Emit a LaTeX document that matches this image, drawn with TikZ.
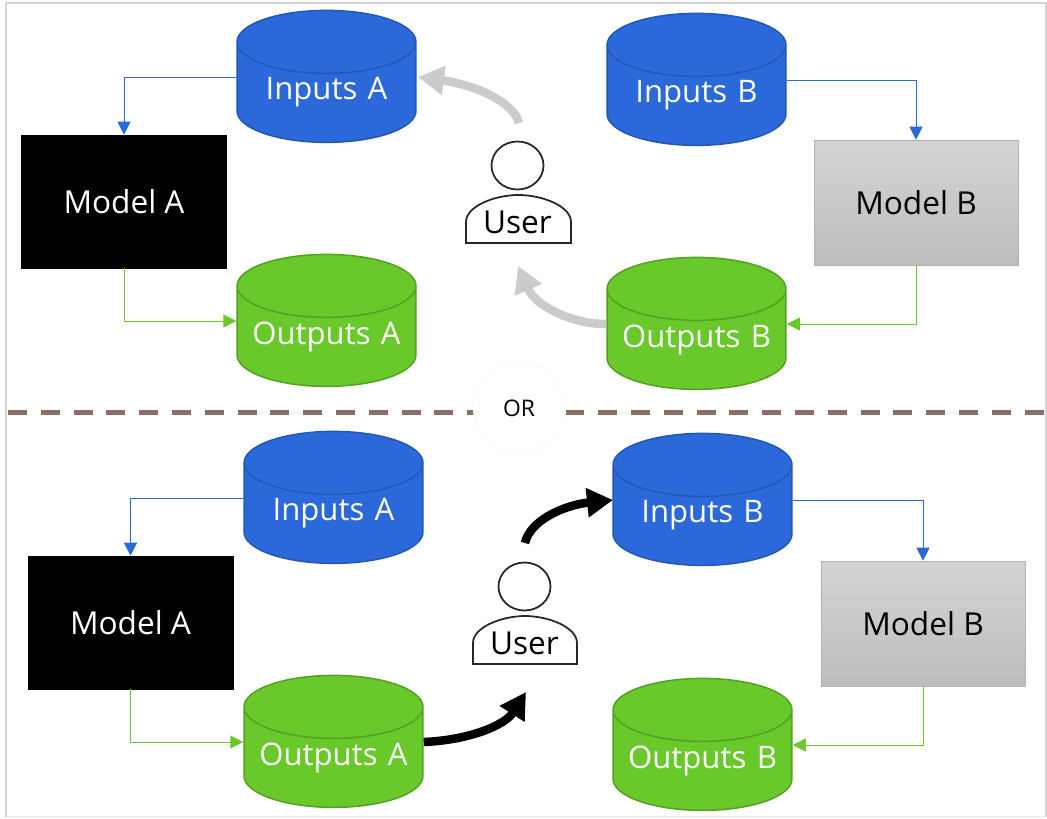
\documentclass[tikz,border=0pt]{standalone}
\usepackage{fontspec}
\setmainfont{Open Sans}
\usetikzlibrary{arrows.meta,shapes.geometric}
\definecolor{dbblue}{HTML}{2B69DB}
\definecolor{dbblueline}{HTML}{2257B5}
\definecolor{dbgreen}{HTML}{69C92A}
\definecolor{dbgreenline}{HTML}{54A022}
\definecolor{orline}{HTML}{8B6F66}
\definecolor{swapgrey}{HTML}{CBCBCB}
\tikzset{
	store/.style={cylinder, shape border rotate=90, aspect=0.42, draw, line width=0.03cm, minimum width=3.58cm, minimum height=2.64cm, text=white, text width=3cm, align=center, font=\fontsize{17.7}{20}\selectfont, inner sep=0pt},
	inputstore/.style={store, fill=dbblue, draw=dbblueline},
	outputstore/.style={store, fill=dbgreen, draw=dbgreenline},
	sideport/.style={yshift=0.31cm},
	blackmodel/.style={rectangle, draw=black, fill=black, text=white, minimum width=4.1cm, minimum height=2.66cm, font=\fontsize{18}{20}\selectfont},
	greymodel/.style={rectangle, draw=black!30, top color=black!17, bottom color=black!26, text=black, minimum width=4.08cm, minimum height=2.5cm, font=\fontsize{18}{20}\selectfont},
	usertext/.style={font=\fontsize{18}{20}\selectfont, inner sep=0pt},
	inflow/.style={draw=dbblue, line width=0.02cm, -{Triangle[length=0.26cm,width=0.26cm]}},
	outflow/.style={draw=dbgreen, line width=0.02cm, -{Triangle[length=0.26cm,width=0.26cm]}},
	greyswap/.style={draw=swapgrey, line width=0.17cm, -{Triangle[length=0.52cm,width=0.56cm]}},
	blackswap/.style={draw=black, line width=0.17cm, -{Triangle[length=0.52cm,width=0.56cm]}},
	userline/.style={draw=black!85, line width=0.035cm, fill=white}
}

\begin{document}
\begin{tikzpicture}[x=0.02cm, y=-0.02cm]
	%%%%% START %%%%%
	\useasboundingbox (0, 0) rectangle (1047, 818);
	\draw[color=black!6, line width=0.05cm] (6, 817) -- (1046, 817);
	\draw[color=black!17, line width=0.05cm] (6, 817) -- (6, 3) -- (1046, 3) -- (1046, 817);

	\draw[color=orline, line width=0.09cm, dash pattern=on 0.38cm off 0.276cm] (8, 412.5) -- (1047, 412.5);
	\node[circle, draw=black!8, densely dotted, fill=white, minimum size=1.84cm, inner sep=0pt, font=\fontsize{13}{15}\selectfont] (orsign) at (519, 408) {OR};

	% upper half
	\node[inputstore] (inputsA) at (326.5, 92.5) {Inputs A};
	\node[outputstore] (outputsA) at (326.5, 336.5) {Outputs A};
	\node[inputstore] (inputsB) at (696.5, 95.5) {Inputs B};
	\node[outputstore] (outputsB) at (696.5, 339.5) {Outputs B};
	\node[blackmodel] (modelA) at (124, 201.5) {Model A};
	\node[greymodel] (modelB) at (916, 202.5) {Model B};

	\draw[userline] (517.5, 165.5) ellipse (26 and 24);
	\draw[userline] (466, 243) -- (466, 222) .. controls (466, 206) and (495, 195) .. (518.5, 195) .. controls (542, 195) and (571, 206) .. (571, 222) -- (571, 243) -- cycle;
	\node[usertext] (userup) at (517.5, 222) {User};

	\draw[inflow] ([sideport]inputsA.west) -| (modelA.north);
	\draw[outflow] (modelA.south) |- ([sideport]outputsA.west);
	\draw[inflow] ([sideport]inputsB.east) -| (modelB.north);
	\draw[outflow] (modelB.south) |- ([sideport]outputsB.east);

	\coordinate (upstart) at (519, 123);
	\coordinate (upend) at (418, 77);
	\coordinate (upback) at (518, 266);
	\draw[greyswap] (upstart) .. controls (513, 100) and (470, 84) .. (upend);
	\draw[greyswap] ([sideport]outputsB.west) .. controls (570, 324) and (535, 305) .. (upback);

	% lower half
	\node[inputstore] (inputsA2) at (333.5, 513.5) {Inputs A};
	\node[outputstore] (outputsA2) at (333.5, 757.5) {Outputs A};
	\node[inputstore] (inputsB2) at (702.5, 515.5) {Inputs B};
	\node[outputstore] (outputsB2) at (702.5, 760.5) {Outputs B};
	\node[blackmodel] (modelA2) at (130.5, 622.5) {Model A};
	\node[greymodel] (modelB2) at (923, 623.5) {Model B};

	\draw[userline] (524.5, 586.5) ellipse (26 and 24);
	\draw[userline] (473, 664) -- (473, 643) .. controls (473, 627) and (502, 616) .. (525, 616) .. controls (548, 616) and (577, 627) .. (577, 643) -- (577, 664) -- cycle;
	\node[usertext] (userdown) at (524.5, 643) {User};

	\draw[inflow] ([sideport]inputsA2.west) -| (modelA2.north);
	\draw[outflow] (modelA2.south) |- ([sideport]outputsA2.west);
	\draw[inflow] ([sideport]inputsB2.east) -| (modelB2.north);
	\draw[outflow] (modelB2.south) |- ([sideport]outputsB2.east);

	\coordinate (downstart) at (525, 543);
	\coordinate (downend) at (613, 500);
	\coordinate (downback) at (526, 692);
	\draw[blackswap] (downstart) .. controls (530, 520) and (565, 505) .. (downend);
	\draw[blackswap] ([sideport]outputsA2.east) .. controls (470, 740) and (505, 725) .. (downback);
	%%%%% END %%%%%
\end{tikzpicture}
\end{document}
